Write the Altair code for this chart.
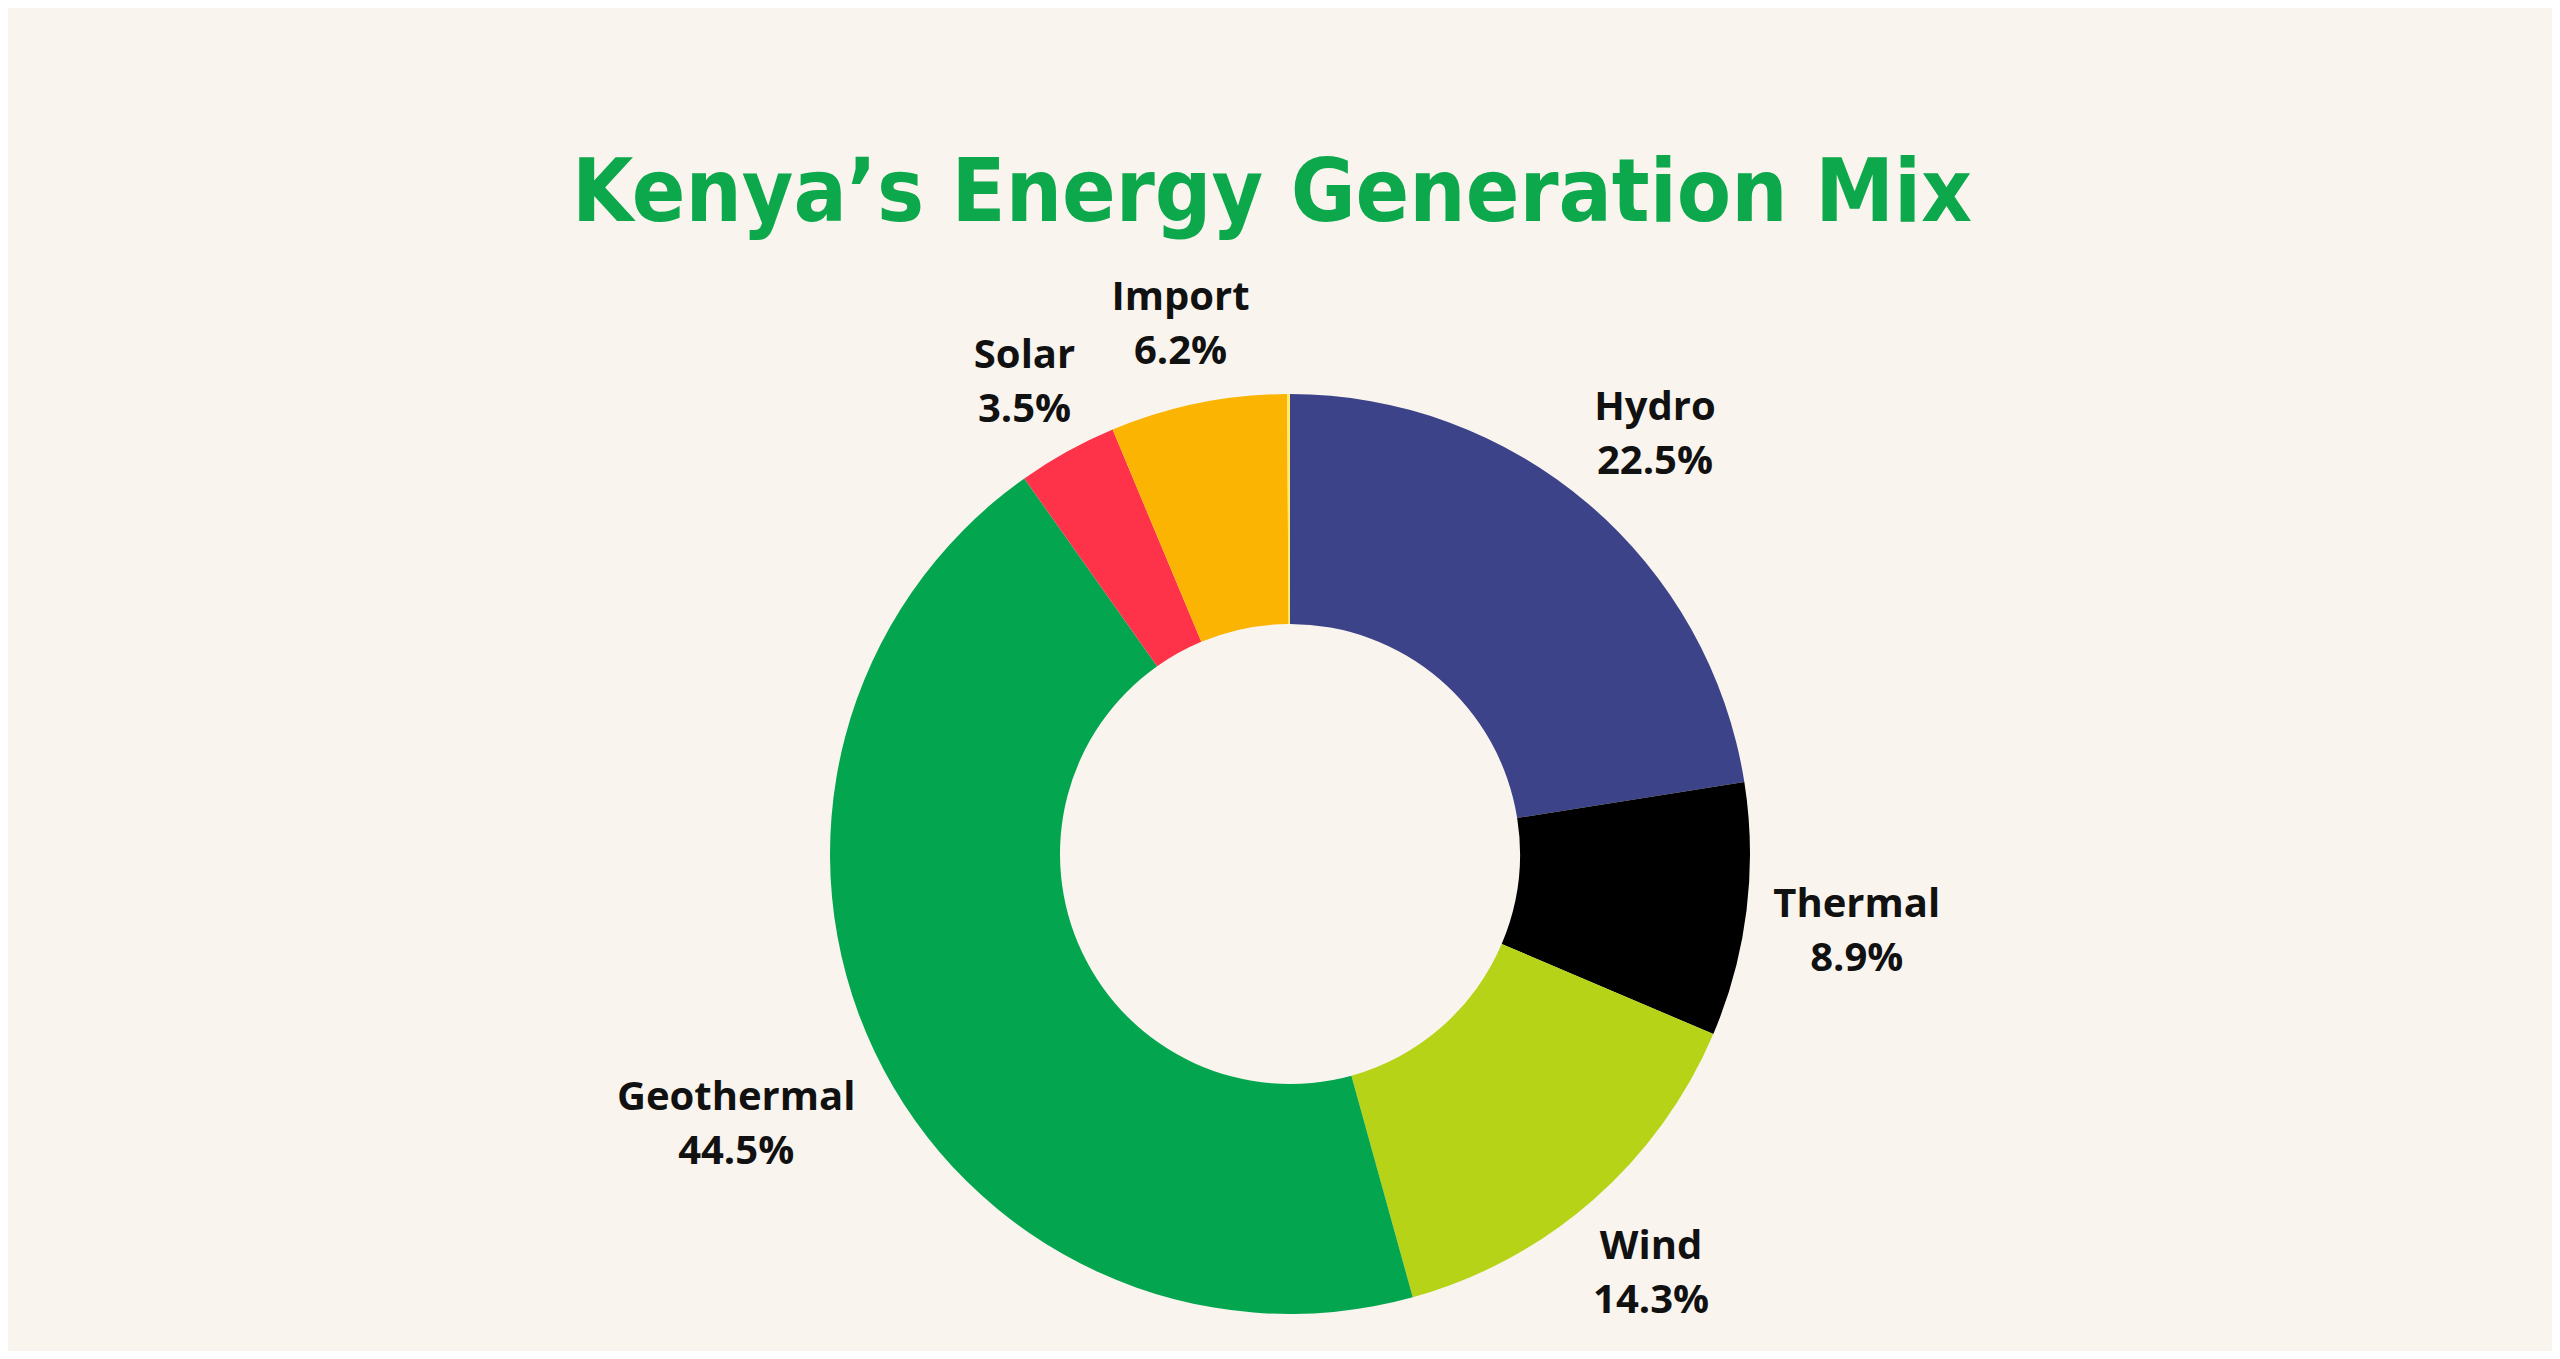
import altair as alt
import pandas as pd

# Data (share of generation, %)
sources = ["Hydro", "Thermal", "Wind", "Geothermal", "Solar", "Import", "Other"]
shares = [22.5, 8.9, 14.3, 44.5, 3.5, 6.2, 0.1]
colors = ["#3D4389", "#000000", "#B6D318", "#03A64F", "#FE334A", "#FBB402", "#FFEB6B"]
show_label = [True, True, True, True, True, True, False]
title_text = ["Kenya’s Energy Generation Mix"]

df = pd.DataFrame({
    "source": sources,
    "value": shares,
    "order": list(range(len(sources))),
    "show": show_label,
})

BG = "#F9F5EE"
CX, CY = 1282, 846
R_OUT, R_IN = 460, 230

arcs = alt.Chart(df).mark_arc(innerRadius=R_IN, outerRadius=R_OUT).encode(
    theta=alt.Theta("value:Q", stack=True),
    order=alt.Order("order:Q", sort="ascending"),
    color=alt.Color("source:N", scale=alt.Scale(domain=sources, range=colors), legend=None),
    x=alt.value(CX),
    y=alt.value(CY),
)

labels = alt.Chart(df).transform_window(
    cum="sum(value)", sort=[alt.SortField("order", order="ascending")], frame=[None, 0]
).transform_calculate(
    mid="datum.cum - datum.value / 2",
    label="datum.show ? datum.source + '\\n' + format(datum.value, '.1f') + '%' : ''",
    labelR="datum.source === 'Geothermal' ? 613 : (datum.source === 'Thermal' ? 571 : (datum.source === 'Hydro' ? 562 : 548))",
).mark_text(
    font="Open Sans",
    fontSize=40,
    fontWeight="bold",
    color="#111111",
    align="center",
    baseline="middle",
    lineBreak="\n",
    lineHeight=54,
    dy=-19,
).encode(
    theta=alt.Theta("mid:Q", stack=False),
    text="label:N",
    x=alt.value(CX),
    y=alt.value(CY),
    radius=alt.Radius("labelR:Q", scale=None),
)

title = alt.Chart(pd.DataFrame({"t": title_text})).mark_text(
    font="DejaVu Sans Condensed, Liberation Sans Narrow, Roboto Condensed, DejaVu Sans",
    fontSize=88,
    fontWeight="bold",
    color="#0DA84C",
    align="center",
    baseline="alphabetic",
).encode(
    text="t:N",
    x=alt.value(1264),
    y=alt.value(213),
)

chart = alt.layer(arcs, labels, title).properties(
    width=2544,
    height=1343,
    autosize=alt.AutoSizeParams(type="none"),
    padding=0,
    background=BG,
).configure_view(stroke=None, fill=BG)

chart.save("out.html", embed_options={"renderer": "svg", "actions": False})
